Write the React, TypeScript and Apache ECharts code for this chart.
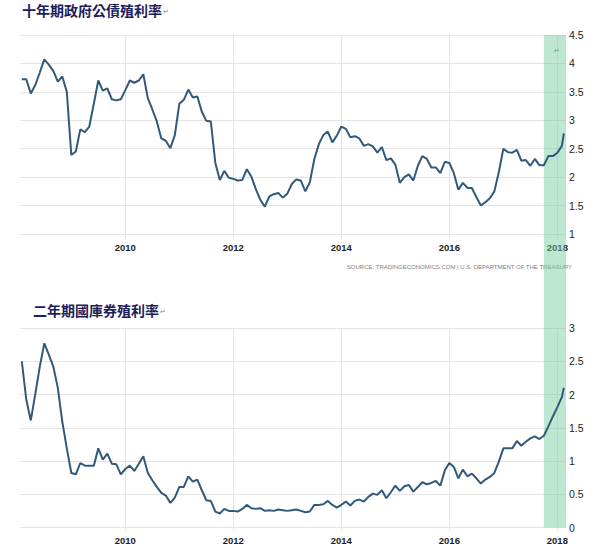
import React, { useEffect, useRef } from "react";
import * as echarts from "echarts";

const tenYearTitle = "十年期政府公債殖利率";
const twoYearTitle = "二年期國庫券殖利率";
const returnMark = "↵";
const sourceText = "SOURCE: TRADINGECONOMICS.COM | U.S. DEPARTMENT OF THE TREASURY";

// x axis (decimal years)
const yearLabels = [2010, 2012, 2014, 2016, 2018];
const xMin = 2008.05;
const xMax = 2018.16;
const firstPointYear = 2008 + 1 / 12; // end of Jan 2008, monthly thereafter
const lastPointYear = 2018.12; // final (partial-month) reading
const highlightRange = [2017.75, 2018.16];

// y axes
const tenYearAxis = { min: 1, max: 4.5, step: 0.5 };
const twoYearAxis = { min: 0, max: 3, step: 0.5 };

// 10-year government bond yield (%), monthly Jan 2008 .. Jan 2018, + Feb 2018
const tenYear = [
  3.72, 3.72, 3.47, 3.62, 3.84, 4.07, 3.98, 3.87, 3.68, 3.77, 3.5, 2.39,
  2.45, 2.84, 2.79, 2.89, 3.29, 3.7, 3.52, 3.56, 3.37, 3.35, 3.37, 3.53,
  3.7, 3.66, 3.7, 3.81, 3.39, 3.19, 2.98, 2.68, 2.64, 2.51, 2.74, 3.29,
  3.36, 3.54, 3.4, 3.42, 3.15, 2.99, 2.98, 2.25, 1.95, 2.11, 1.99, 1.97,
  1.94, 1.95, 2.14, 2.01, 1.79, 1.6, 1.48, 1.66, 1.7, 1.72, 1.64, 1.71,
  1.88, 1.96, 1.94, 1.75, 1.91, 2.32, 2.58, 2.74, 2.8, 2.61, 2.73, 2.89,
  2.85, 2.7, 2.72, 2.68, 2.55, 2.58, 2.54, 2.43, 2.53, 2.3, 2.33, 2.22,
  1.9, 2.0, 2.05, 1.94, 2.2, 2.37, 2.32, 2.17, 2.17, 2.07, 2.27, 2.25,
  2.07, 1.78, 1.9, 1.81, 1.81, 1.65, 1.5, 1.56, 1.63, 1.75, 2.09, 2.5,
  2.44, 2.43, 2.48, 2.29, 2.3, 2.2, 2.32, 2.21, 2.21, 2.37, 2.37, 2.43,
  2.55, 2.77,
];

// 2-year treasury yield (%), same dates
const twoYear = [
  2.5, 1.92, 1.61, 2.01, 2.42, 2.77, 2.6, 2.42, 2.1, 1.59, 1.19, 0.82,
  0.8, 0.97, 0.93, 0.93, 0.93, 1.19, 1.02, 1.11, 0.96, 0.95, 0.8, 0.88,
  0.93, 0.85, 0.96, 1.07, 0.82, 0.71, 0.61, 0.52, 0.48, 0.37, 0.45, 0.61,
  0.61, 0.77, 0.69, 0.72, 0.56, 0.41, 0.4, 0.24, 0.21, 0.28, 0.25, 0.25,
  0.24, 0.28, 0.34, 0.29, 0.28, 0.29, 0.25, 0.26, 0.25, 0.27, 0.26, 0.25,
  0.26, 0.27, 0.25, 0.23, 0.24, 0.34, 0.34, 0.35, 0.4, 0.34, 0.3, 0.34,
  0.39, 0.33, 0.4, 0.42, 0.39, 0.46, 0.51, 0.49, 0.56, 0.44, 0.53, 0.63,
  0.55, 0.62, 0.64, 0.54, 0.61, 0.68, 0.65, 0.67, 0.7, 0.63, 0.86, 0.97,
  0.91, 0.74, 0.87, 0.77, 0.81, 0.74, 0.66, 0.72, 0.76, 0.82, 0.99, 1.19,
  1.19, 1.19, 1.3, 1.23, 1.29, 1.34, 1.37, 1.33, 1.38, 1.52, 1.67, 1.81,
  1.96, 2.1,
];

const LINE_COLOR = "#31597b";
const GRID_COLOR = "#e4e4e4";
const LABEL_COLOR = "#222";
const SANS = "'Liberation Sans', Arial, sans-serif";

function toPoints(values: number[]) {
  return values.map((v, i) => [
    i === values.length - 1 ? lastPointYear : firstPointYear + i / 12,
    v,
  ]);
}

function makeXAxis(gridIndex: number) {
  return {
    type: "value",
    gridIndex,
    min: xMin,
    max: xMax,
    axisLine: { show: false },
    axisTick: {
      show: true,
      length: 4,
      customValues: yearLabels,
      lineStyle: { color: GRID_COLOR },
    },
    axisLabel: {
      customValues: yearLabels,
      color: LABEL_COLOR,
      fontSize: 9.5,
      fontWeight: "bold",
      fontFamily: SANS,
      margin: 8,
      formatter: (v: number) => String(Math.round(v)),
    },
    splitLine: { show: true, lineStyle: { color: GRID_COLOR, width: 1 } },
  };
}

function makeYAxis(gridIndex: number, ax: { min: number; max: number; step: number }) {
  return {
    type: "value",
    gridIndex,
    position: "right",
    min: ax.min,
    max: ax.max,
    interval: ax.step,
    axisLine: { show: false },
    axisTick: { show: false },
    axisLabel: {
      margin: 3,
      color: LABEL_COLOR,
      fontSize: 10.5,
      fontFamily: SANS,
    },
    splitLine: { show: true, lineStyle: { color: GRID_COLOR, width: 1 } },
  };
}

function titleText(x: number, y: number, title: string) {
  return {
    type: "text",
    x,
    y,
    style: {
      text: `{t|${title}}{m|${returnMark}}`,
      rich: {
        t: {
          fontSize: 14,
          fontWeight: "bold",
          fontFamily: "Noto Sans CJK TC",
          fill: "#1d1d5c",
        },
        m: { fontSize: 7, fill: "#888", padding: [4, 0, 0, 1] },
      },
    },
  };
}

export default function App() {
  const ref = useRef<HTMLDivElement>(null);

  useEffect(() => {
    if (!ref.current) return;
    const chart = echarts.init(ref.current, null, { renderer: "svg" });
    const option: any = {
      animation: false,
      backgroundColor: "#ffffff",
      grid: [
        { left: 20, right: 34, top: 35, height: 199 },
        { left: 20, right: 34, top: 328, height: 199.5 },
        { left: 20, right: 34, top: 35, height: 492.5 },
      ],
      xAxis: [
        makeXAxis(0),
        makeXAxis(1),
        { type: "value", gridIndex: 2, min: xMin, max: xMax, show: false },
      ],
      yAxis: [
        makeYAxis(0, tenYearAxis),
        makeYAxis(1, twoYearAxis),
        { type: "value", gridIndex: 2, min: 0, max: 1, show: false },
      ],
      series: [
        {
          type: "line",
          xAxisIndex: 0,
          yAxisIndex: 0,
          data: toPoints(tenYear),
          symbol: "none",
          lineStyle: { color: LINE_COLOR, width: 2 },
          silent: true,
        },
        {
          type: "line",
          xAxisIndex: 1,
          yAxisIndex: 1,
          data: toPoints(twoYear),
          symbol: "none",
          lineStyle: { color: LINE_COLOR, width: 2 },
          silent: true,
        },
        {
          type: "line",
          xAxisIndex: 2,
          yAxisIndex: 2,
          data: [[highlightRange[0], 0.5]],
          symbol: "none",
          lineStyle: { opacity: 0 },
          silent: true,
          markArea: {
            silent: true,
            itemStyle: { color: "rgba(120, 205, 160, 0.48)" },
            data: [[{ xAxis: highlightRange[0] }, { xAxis: highlightRange[1] }]],
          },
        },
      ],
      graphic: [
        titleText(22, 3, tenYearTitle),
        titleText(33, 303, twoYearTitle),
        {
          type: "text",
          x: 554,
          y: 47,
          z: 10,
          style: { text: returnMark, fontSize: 7, fill: "#888" },
        },
        {
          type: "text",
          x: 572,
          y: 267,
          style: {
            text: sourceText,
            align: "right",
            verticalAlign: "middle",
            fontSize: 6,
            fontFamily: SANS,
            fill: "#808080",
          },
        },
      ],
    };
    chart.setOption(option);
    return () => chart.dispose();
  }, []);

  return (
    <div
      ref={ref}
      style={{ position: "fixed", left: 0, top: 0, width: 600, height: 550, background: "#fff" }}
    />
  );
}
